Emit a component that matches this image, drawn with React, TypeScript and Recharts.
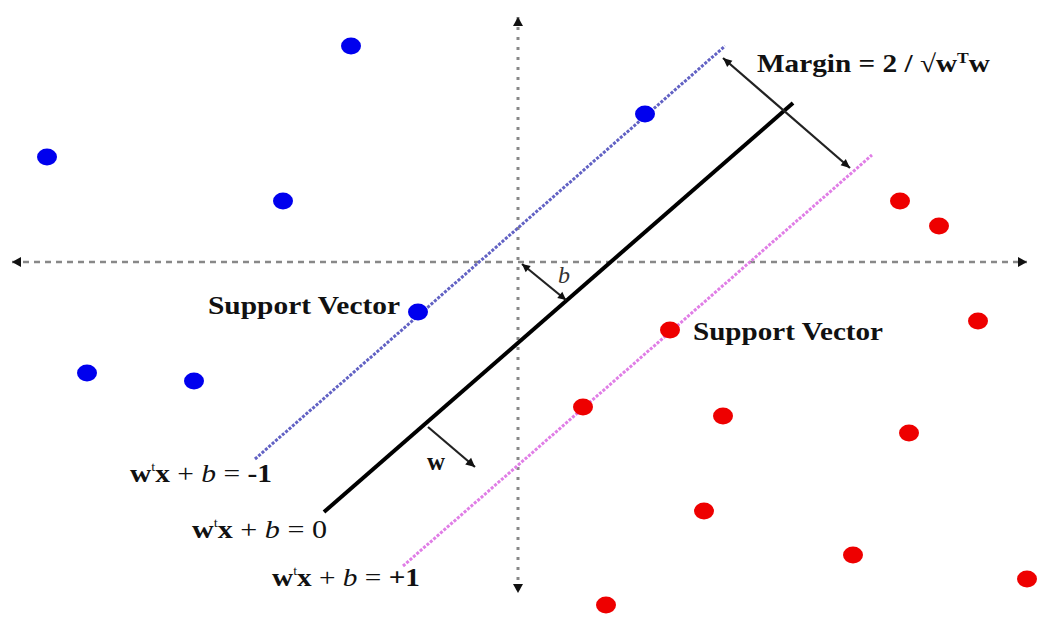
import React from 'react';
import { ScatterChart, Scatter, XAxis, YAxis, ReferenceLine, ReferenceDot } from 'recharts';

// plot units: origin where the two axes cross, 1 unit = 50px
const blueX = [-3.34, -9.42, -4.7, 2.54, -2.0, -8.62, -6.48];
const blueY = [4.32, 2.1, 1.22, 2.96, -1.0, -2.22, -2.38];
const redX = [7.64, 8.42, 9.2, 3.04, 1.3, 4.1, 7.82, 3.72, 6.7, 10.18, 1.76];
const redY = [1.22, 0.72, -1.18, -1.36, -2.9, -3.08, -3.42, -4.98, -5.86, -6.34, -6.86];

// hyperplanes w'x + b = -1, 0, +1 as [x1, y1, x2, y2]
const planeMinus = [-5.26, -3.94, 4.14, 4.32];
const planeZero = [-3.88, -5.0, 5.5, 3.18];
const planePlus = [-2.3, -6.08, 7.08, 2.14];

const axisH = [-10.12, 0, 10.18, 0];
const axisV = [0, 4.9, 0, -6.62];
const marginArrow = [4.1, 4.08, 6.64, 1.88];
const bArrow = [0.08, -0.04, 0.96, -0.76];
const wArrow = [-1.8, -3.3, -0.86, -4.1];

const labelPos = {
  margin: [4.78, 3.8],
  svLeft: [-6.2, -1.04],
  svRight: [3.5, -1.56],
  w: [-1.82, -4.16],
  b: [0.8, -0.42],
  eqMinus: [-7.76, -4.4],
  eqZero: [-6.52, -5.52],
  eqPlus: [-4.92, -6.48],
};

const blue = blueX.map((x, i) => ({ x, y: blueY[i] }));
const red = redX.map((x, i) => ({ x, y: redY[i] }));

const seg = (s: number[]) => [
  { x: s[0], y: s[1] },
  { x: s[2], y: s[3] },
];

const FONT = '"Liberation Serif", "Times New Roman", serif';

function head(tx: number, ty: number, fx: number, fy: number, len: number, half: number, color: string) {
  const dx = tx - fx;
  const dy = ty - fy;
  const d = Math.hypot(dx, dy) || 1;
  const ux = dx / d;
  const uy = dy / d;
  const bx = tx - ux * len;
  const by = ty - uy * len;
  const pts = `${tx},${ty} ${bx - uy * half},${by + ux * half} ${bx + uy * half},${by - ux * half}`;
  return <polygon points={pts} fill={color} />;
}

function arrow(opts: { color: string; width: number; dash?: string; start?: boolean; end?: boolean; len?: number; half?: number }) {
  const { color, width, dash, start, end, len = 9, half = 4.5 } = opts;
  return (p: any) => {
    const { x1, y1, x2, y2 } = p;
    return (
      <g>
        <line x1={x1} y1={y1} x2={x2} y2={y2} stroke={color} strokeWidth={width} strokeDasharray={dash} />
        {start ? head(x1, y1, x2, y2, len, half, '#111') : null}
        {end ? head(x2, y2, x1, y1, len, half, '#111') : null}
      </g>
    );
  };
}

const dotShape = (color: string) => (p: any) => (
  <ellipse cx={p.cx} cy={p.cy} rx={10} ry={8.5} fill={color} />
);

function label(content: React.ReactNode, opts: { size: number; length?: number; weight?: string; style?: string; color?: string }) {
  return (p: any) => (
    <text
      x={p.cx}
      y={p.cy}
      fontFamily={FONT}
      fontSize={opts.size}
      fontWeight={opts.weight ?? 'normal'}
      fontStyle={opts.style ?? 'normal'}
      fill={opts.color ?? '#111'}
      textLength={opts.length}
      lengthAdjust={opts.length ? 'spacingAndGlyphs' : undefined}
    >
      {content}
    </text>
  );
}

const eq = (rhs: string, rhsBold: boolean) => (
  <>
    <tspan fontWeight="bold">w</tspan>
    <tspan fontSize={12} dy={-11}>t</tspan>
    <tspan fontWeight="bold" dy={11}>x</tspan>
    <tspan> + </tspan>
    <tspan fontStyle="italic">b</tspan>
    <tspan> = </tspan>
    <tspan fontWeight={rhsBold ? 'bold' : 'normal'}>{rhs}</tspan>
  </>
);

export default function App() {
  return (
    <div style={{ position: 'absolute', left: 0, top: 0, background: '#fff' }}>
      <ScatterChart width={1037} height={629} margin={{ top: 0, right: 0, bottom: 0, left: 0 }}>
        <XAxis type="number" dataKey="x" hide domain={[-10.36, 10.38]} allowDataOverflow />
        <YAxis type="number" dataKey="y" hide domain={[-7.34, 5.24]} allowDataOverflow />

        <ReferenceLine segment={seg(axisH)} shape={arrow({ color: '#888', width: 2.5, dash: '6 5', start: true, end: true, len: 9, half: 5 })} />
        <ReferenceLine segment={seg(axisV)} shape={arrow({ color: '#888', width: 3, dash: '3 7', start: true, end: true, len: 9, half: 5 })} />

        <ReferenceLine segment={seg(planeMinus)} shape={arrow({ color: '#6262c4', width: 3, dash: '3 1.5' })} />
        <ReferenceLine segment={seg(planeZero)} shape={arrow({ color: '#000', width: 4 })} />
        <ReferenceLine segment={seg(planePlus)} shape={arrow({ color: '#e07ee6', width: 3, dash: '3 1.5' })} />

        <ReferenceLine segment={seg(marginArrow)} shape={arrow({ color: '#222', width: 2.2, start: true, end: true, len: 9, half: 4 })} />
        <ReferenceLine segment={seg(bArrow)} shape={arrow({ color: '#222', width: 2.2, start: true, end: true, len: 8, half: 4 })} />
        <ReferenceLine segment={seg(wArrow)} shape={arrow({ color: '#222', width: 2.2, end: true, len: 9, half: 4.5 })} />

        <Scatter data={blue} isAnimationActive={false} shape={dotShape('#0000ee')} />
        <Scatter data={red} isAnimationActive={false} shape={dotShape('#ee0000')} />

        <ReferenceDot
          x={labelPos.margin[0]}
          y={labelPos.margin[1]}
          shape={label(
            <>
              <tspan>Margin = 2 / √w</tspan>
              <tspan fontSize={15} dy={-9}>T</tspan>
              <tspan dy={9}>w</tspan>
            </>,
            { size: 25, length: 233, weight: 'bold' },
          )}
        />
        <ReferenceDot x={labelPos.svLeft[0]} y={labelPos.svLeft[1]} shape={label('Support Vector', { size: 25, length: 192, weight: 'bold' })} />
        <ReferenceDot x={labelPos.svRight[0]} y={labelPos.svRight[1]} shape={label('Support Vector', { size: 25, length: 190, weight: 'bold' })} />
        <ReferenceDot x={labelPos.w[0]} y={labelPos.w[1]} shape={label('w', { size: 25, weight: 'bold' })} />
        <ReferenceDot x={labelPos.b[0]} y={labelPos.b[1]} shape={label('b', { size: 24, style: 'italic', color: '#333' })} />
        <ReferenceDot x={labelPos.eqMinus[0]} y={labelPos.eqMinus[1]} shape={label(eq('-1', true), { size: 25, length: 142 })} />
        <ReferenceDot x={labelPos.eqZero[0]} y={labelPos.eqZero[1]} shape={label(eq('0', false), { size: 25, length: 135 })} />
        <ReferenceDot x={labelPos.eqPlus[0]} y={labelPos.eqPlus[1]} shape={label(eq('+1', true), { size: 25, length: 148 })} />
      </ScatterChart>
    </div>
  );
}
